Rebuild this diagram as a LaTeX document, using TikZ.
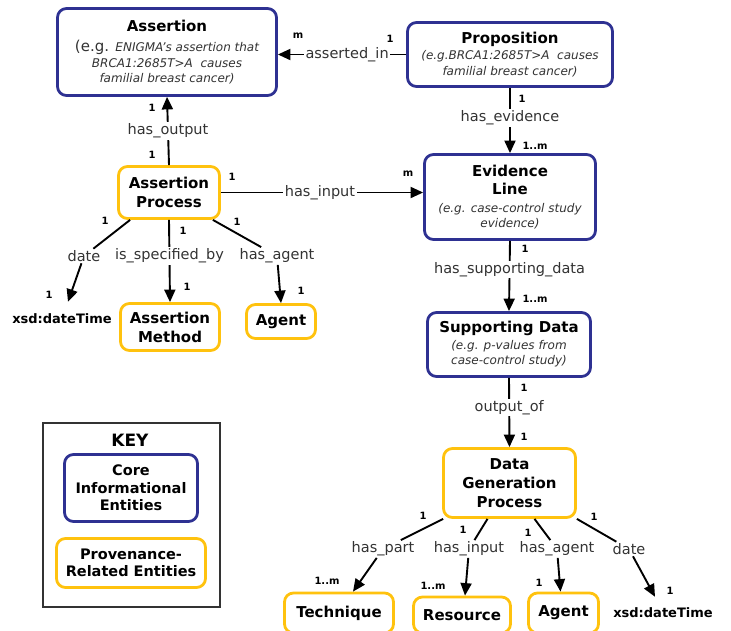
\documentclass[tikz,border=0pt]{standalone}
\usepackage{fontspec}
\setmainfont{DejaVu Sans}
\usetikzlibrary{arrows.meta,calc}
\definecolor{coreblue}{HTML}{2E3192}
\definecolor{provyellow}{HTML}{FFC20E}
\definecolor{lblgray}{HTML}{333333}
\definecolor{keygray}{HTML}{333333}
\newcommand\ttlfont{\fontsize{15}{19}\selectfont\bfseries}
\newcommand\exfont{\fontsize{12}{15.5}\selectfont}
\newcommand\lblfont{\fontsize{14.5}{17}\selectfont}
\newcommand\cardfont{\fontsize{10}{12}\selectfont\bfseries}
\newcommand\ttl[1]{{\ttlfont\color{black}#1}}
\newcommand\exa[1]{{\itshape\color{lblgray}#1}}
\begin{document}
\begin{tikzpicture}[x=1pt,y=-1pt,
  core/.style={draw=coreblue, line width=2.8pt, rounded corners=9pt, fill=white, align=center, inner sep=0pt, font=\exfont},
  prov/.style={draw=provyellow, line width=2.8pt, rounded corners=9pt, fill=white, align=center, inner sep=0pt, font=\ttlfont},
  ln/.style={line width=1.9pt},
  arr/.style={line width=1.9pt, -{Triangle[length=12.5pt,width=11pt]}},
  elbl/.style={fill=white, inner sep=1.5pt, font=\lblfont, text=lblgray},
  card/.style={font=\cardfont, inner sep=0pt},
  xsd/.style={font=\fontsize{13}{15}\selectfont\bfseries, inner sep=0pt}
]
\useasboundingbox (0,0) rectangle (731,630);
\clip (0,0) rectangle (731,630);

% ---- core boxes
\node[core, minimum width=219pt, minimum height=87pt] (assertion) at (167,52)
  {\ttl{Assertion}\\[5pt]{\fontsize{15}{15.5}\selectfont\color{lblgray}(e.g. }\exa{ENIGMA's assertion that}\\\exa{BRCA1:2685T>A\ \ causes}\\\exa{familial breast cancer)}};
\node[core, minimum width=205pt, minimum height=64pt] (prop) at (510,54.5)
  {\ttl{Proposition}\\[1pt]\exa{(e.g.BRCA1:2685T>A\ \ causes}\\\exa{familial breast cancer)}};
\node[core, minimum width=171pt, minimum height=85pt] (evl) at (510,197)
  {\ttl{Evidence}\\[2.5pt]\ttl{Line}\\[2.5pt]\exa{(e.g. case-control study}\\\exa{evidence)}};
\node[core, minimum width=163pt, minimum height=64pt] (sdata) at (509,344.5)
  {\ttl{Supporting Data}\\[1pt]\exa{(e.g. p-values from}\\\exa{case-control study)}};

% ---- provenance boxes
\node[prov, minimum width=101pt, minimum height=52pt] (aproc) at (169,192.5) {Assertion\\Process};
\node[prov, minimum width=99pt, minimum height=47pt] (ameth) at (170,327) {Assertion\\Method};
\node[prov, minimum width=69pt, minimum height=34pt] (agent1) at (281,321.5) {Agent};
\node[prov, minimum width=132pt, minimum height=69pt] (dgp) at (509.5,483) {Data\\Generation\\Process};
\node[prov, minimum width=109pt, minimum height=40pt] (tech) at (339,613) {Technique};
\node[prov, minimum width=97pt, minimum height=36pt] (res) at (462,615) {Resource};
\node[prov, minimum width=70pt, minimum height=40pt] (agent2) at (563.5,613) {Agent};

\node[xsd] (xsd1) at (62,319) {xsd:dateTime};
\node[xsd] (xsd2) at (663,613) {xsd:dateTime};

% ---- key
\node[draw=keygray, line width=2pt, minimum width=177pt, minimum height=184pt] (key) at (131.5,515) {};
\node[font=\fontsize{17}{20}\selectfont\bfseries, inner sep=0pt] (keyttl) at (130,440) {KEY};
\node[core, minimum width=133pt, minimum height=67pt, font=\fontsize{14.5}{17.5}\selectfont\bfseries] (keycore) at (131,488) {Core\\Informational\\Entities};
\node[prov, minimum width=149pt, minimum height=49pt, font=\fontsize{14.5}{17.5}\selectfont\bfseries] (keyprov) at (131,563) {Provenance-\\Related Entities};

% ---- straight connectors
\draw[arr] (prop.west) -- node[elbl, pos=0.46] (lAsserted) {asserted\_in} (prop.west -| assertion.east);
\draw[arr] (prop.south) -- node[elbl, pos=0.46] (lEvid) {has\_evidence} (evl.north);
\draw[arr] (evl.south) -- node[elbl, pos=0.41] (lSupp) {has\_supporting\_data} (sdata.north);
\draw[arr] (sdata.south) -- node[elbl, pos=0.43] (lOut) {output\_of} (dgp.north);
\draw[arr] (aproc.north) -- node[elbl, pos=0.5] (lHasOut) {has\_output} (assertion.south);
\draw[arr] (aproc.east) -- node[elbl, pos=0.49] (lHasIn) {has\_input} (aproc.east -| evl.west);
\draw[arr] (aproc.south) -- node[elbl, pos=0.44] (lSpec) {is\_specified\_by} (ameth.north);

% ---- bent connectors (through labels)
\node[elbl] (lDate1) at (84,256) {date};
\draw[ln] ([xshift=13pt]aproc.south west) -- (lDate1);
\draw[arr] (lDate1) -- ([xshift=6pt,yshift=12pt]xsd1.north);

\node[elbl] (lAg1) at (277,256) {has\_agent};
\draw[ln] ([xshift=-8pt]aproc.south east) -- (lAg1);
\draw[arr] (lAg1) -- (agent1.north);

\node[elbl] (lPart) at (383,549) {has\_part};
\draw[ln] ([xshift=1pt]dgp.south west) -- (lPart);
\draw[arr] (lPart) -- ([xshift=14pt]tech.north);

\node[elbl] (lInp) at (469,549) {has\_input};
\draw[ln] ([xshift=-22pt]dgp.south) -- (lInp);
\draw[arr] (lInp) -- ([xshift=3pt]res.north);

\node[elbl] (lAg2) at (557,549) {has\_agent};
\draw[ln] ([xshift=25pt]dgp.south) -- (lAg2);
\draw[arr] (lAg2) -- ([xshift=-3pt]agent2.north);

\node[elbl] (lDate2) at (629,549) {date};
\draw[ln] (dgp.south east) -- (lDate2);
\draw[arr] (lDate2) -- ([xshift=-8pt,yshift=11pt]xsd2.north);

% ---- cardinalities
\node[card] (c1) at (298,36) {m};
\node[card] (c2) at (390,39) {1};
\node[card] (c3) at (152,108) {1};
\node[card] (c4) at (152,155) {1};
\node[card] (c5) at (522,99) {1};
\node[card] (c6) at (535,146) {1..m};
\node[card] (c7) at (408,174) {m};
\node[card] (c8) at (232,177) {1};
\node[card] (c9) at (525,249) {1};
\node[card] (c10) at (535,299) {1..m};
\node[card] (c11) at (524,388) {1};
\node[card] (c12) at (524,437) {1};
\node[card] (c13) at (105,221) {1};
\node[card] (c14) at (183,231) {1};
\node[card] (c15) at (237,222) {1};
\node[card] (c16) at (49,295) {1};
\node[card] (c17) at (187,287) {1};
\node[card] (c18) at (301,291) {1};
\node[card] (c19) at (423,516) {1};
\node[card] (c20) at (463,530) {1};
\node[card] (c21) at (528,533) {1};
\node[card] (c22) at (594,517) {1};
\node[card] (c23) at (327,581) {1..m};
\node[card] (c24) at (433,586) {1..m};
\node[card] (c25) at (539,583) {1};
\node[card] (c26) at (670,591) {1};
\end{tikzpicture}
\end{document}
